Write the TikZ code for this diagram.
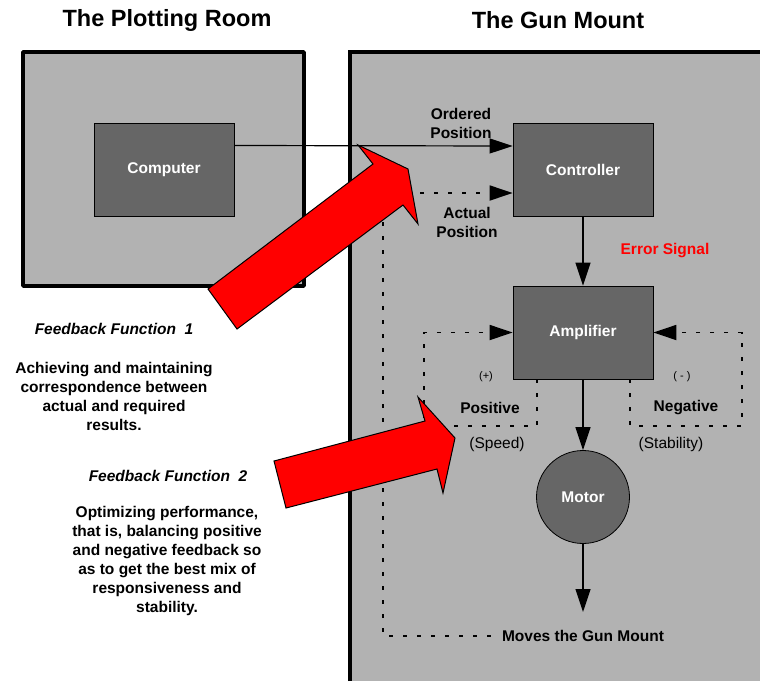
\documentclass[tikz,border=0pt]{standalone}
\usepackage{fontspec}
\setmainfont{Liberation Sans}
\usetikzlibrary{arrows.meta}

\definecolor{roomgray}{HTML}{B2B2B2}
\definecolor{unitgray}{HTML}{666666}
\definecolor{errred}{HTML}{FF0000}

\tikzset{
  unit/.style={draw=black, line width=0.8pt, fill=unitgray, text=white,
    font=\bfseries\fontsize{15.5}{19}\selectfont,
    minimum width=140pt, minimum height=93pt, inner sep=0pt},
  lbl/.style={font=\bfseries\fontsize{15.5}{19}\selectfont, align=center, inner sep=0pt},
  note/.style={font=\fontsize{15.5}{19}\selectfont, inner sep=0pt},
  sig/.style={line width=1.2pt, -{Triangle[length=23pt,width=15pt]}},
  feed/.style={line width=1.8pt, dash pattern=on 4pt off 10pt},
  bigarrow/.style={draw=black, line width=1pt, fill=errred, line join=miter},
}

\begin{document}
\begin{tikzpicture}[x=1pt, y=-1pt]
    \useasboundingbox (0,0) rectangle (760,681);

    % the two rooms
    \draw[line width=3.5pt, fill=roomgray, line join=round] (23,52) rectangle (304,286);
    \fill[roomgray] (350,52) rectangle (760,681);
    \draw[line width=4pt] (350,681) -- (350,52) -- (760,52);

    \node[font=\bfseries\fontsize{23.5}{28}\selectfont] (plotting) at (167,20) {The Plotting Room};
    \node[font=\bfseries\fontsize{23.5}{28}\selectfont] (gunmount) at (558,20) {The Gun Mount};

    % units
    \node[unit] (computer) at (164,169.5) {Computer};
    \node[unit] (controller) at (583,170) {Controller};
    \node[unit] (amplifier) at (583,332.5) {Amplifier};
    \node[unit, circle, minimum size=93pt] (motor) at (583,497) {Motor};

    % labels
    \node[lbl] (ordered) at (461,123) {Ordered\\Position};
    \node[lbl] (actual) at (467,222) {Actual\\Position};
    \node[lbl, text=errred] (error) at (665,251) {Error Signal};
    \node[font=\fontsize{11}{13}\selectfont, inner sep=0pt] (plus) at (486,377) {(+)};
    \node[font=\fontsize{11}{13}\selectfont, inner sep=0pt] (minus) at (682,377) {( - )};
    \node[lbl] (positive) at (490,408) {Positive};
    \node[lbl] (negative) at (686,408) {Negative};
    \node[note] (speed) at (497,444) {(Speed)};
    \node[note] (stability) at (671,444) {(Stability)};
    \node[lbl] (moves) at (583,636) {Moves the Gun Mount};

    \node[lbl, font=\bfseries\itshape\fontsize{15.5}{19}\selectfont] (fbone) at (114,329) {Feedback Function\ \ 1};
    \node[lbl] (fbonetext) at (114,396.5) {Achieving and maintaining\\correspondence between\\actual and required\\results.};
    \node[lbl, font=\bfseries\itshape\fontsize{15.5}{19}\selectfont] (fbtwo) at (168,476) {Feedback Function\ \ 2};
    \node[lbl] (fbtwotext) at (167,560.5) {Optimizing performance,\\that is, balancing positive\\and negative feedback so\\as to get the best mix of\\responsiveness and\\stability.};

    % signal flow
    \draw[sig] ([yshift=24pt]computer.east) -- ([yshift=24pt]controller.west);
    \draw[sig] (controller) -- (amplifier);
    \draw[sig] (amplifier) -- (motor);
    \coordinate (mountend) at (583,612);
    \draw[sig] (motor) -- (mountend);

    % feedback loops
    \coordinate (fbbot) at (383,636);
    \coordinate (fbtop) at (383,193);
    \draw[feed, -{Triangle[length=23pt,width=15pt]}] ([xshift=-11pt]moves.west) -- (fbbot) -- (fbtop) -- ([yshift=-23pt]controller.west);
    \coordinate (posloop) at (424,426);
    \coordinate (negloop) at (742,426);
    \draw[feed, -{Triangle[length=23pt,width=15pt]}] ([xshift=-46pt]amplifier.south) |- (posloop) |- (amplifier.west);
    \draw[feed, -{Triangle[length=23pt,width=15pt]}] ([xshift=47pt]amplifier.south) |- (negloop) |- (amplifier.east);

    % red arrows
    \draw[bigarrow] (208,289) -- (373,164) -- (358,145) -- (408,169) -- (418,224) -- (403,205) -- (237,329) -- cycle;
    \draw[bigarrow] (274,461) -- (425,421) -- (418,397) -- (455,438) -- (443,493) -- (437,469) -- (286,508) -- cycle;
\end{tikzpicture}
\end{document}
